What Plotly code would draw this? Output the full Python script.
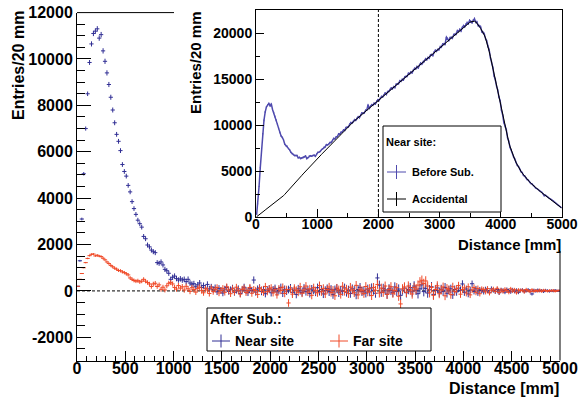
import math
import plotly.graph_objects as go

# ---------------- data (20 mm bins, centres 10 ... 4990 mm) ----------------
bin_centers_mm = [10 + 20 * i for i in range(250)]

near_after_sub = [
    200, 1300, 3100, 5050, 7000, 8500, 9850, 10650, 11100, 11200,
    11300, 10900, 11050, 10350, 9900, 9400, 8900, 8350, 7800, 7250,
    6750, 6450, 6050, 5450, 5150, 4950, 4550, 4270, 3850, 3550,
    3300, 3050, 2900, 2750, 2350, 2250, 1980, 1900, 1760, 1690,
    1650, 1220, 1190, 1250, 1120, 930, 870, 760, 500, 590,
    640, 530, 470, 520, 470, 500, 400, 500, 340, 290,
    310, 180, 260, 340, 150, 230, 120, 280, 90, 170,
    60, 140, -40, 110, 30, -90, 80, 150, -20, 50,
    120, -60, 30, 90, -110, 40, 160, 10, -70, 100,
    20, 470, -50, 80, 130, -30, 60, -120, 40, 90,
    -80, 50, 110, -40, 20, 150, -100, 70, -10, 60,
    130, -60, 40, -150, 90, 10, -70, 120, -30, 50,
    -110, 80, 30, -50, 140, -20, 60, -130, 20, 100,
    -40, 70, -160, 50, 110, -80, 30, -20, 130, -60,
    40, -110, 90, 20, -170, 60, 150, -30, 10, -90,
    80, -40, 130, 30, -100, 560, 250, -60, 110, 40,
    -140, 90, 20, -60, 170, -20, 80, -190, 40, 120,
    -80, 60, 140, -40, 210, 30, -120, 90, 260, -30,
    110, -90, 50, 180, -150, 20, 130, -60, 70, -20,
    150, -100, 40, 90, -170, 60, -40, 120, 30, 300,
    -60, 80, -130, 40, 310, -20, 90, -90, 50, 20,
    -40, 70, 10, -60, 90, 30, -30, 60, -80, 40,
    20, -50, 60, 10, -40, 50, -20, 30, -60, 20,
    40, -30, 10, 50, -20, -130, 30, -10, 40, 0,
    20, -30, 30, 10, -20, 20, -10, 30, 0, 10,
]

far_after_sub = [
    200, 500, 750, 1000, 1220, 1400, 1520, 1580, 1590, 1510,
    1540, 1500, 1480, 1410, 1340, 1250, 1180, 1100, 1040, 980,
    940, 880, 870, 820, 790, 740, 690, 560, 500, 450,
    420, 440, 390, 420, 500, 420, 360, 300, 190, 300,
    330, 190, 260, 70, 160, 40, 220, 330, 360, 300,
    150, 80, 230, 120, 180, 40, 200, 90, -20, 140,
    60, -50, 110, 160, 10, -80, 90, 40, -110, 130,
    -30, 70, 150, -90, 20, 110, -60, 180, 40, -120,
    90, -40, 160, 30, -140, 70, 120, -70, 10, 150,
    -100, 60, 20, -150, 110, 40, -60, 190, -30, 80,
    130, -80, 50, -170, 90, 20, 160, -110, 60, -520,
    70, -140, 120, 30, -60, 180, -100, 40, 210, -50,
    90, -190, 140, 10, -80, 230, -40, 110, -130, 60,
    170, -70, 30, -210, 120, 50, -150, 200, -20, 80,
    -120, 160, 40, -80, 240, -170, 70, 10, -110, 190,
    -40, 100, -200, 150, 30, 280, -90, 120, -60, 210,
    -150, 60, 180, -100, 20, 140, -230, -560, 90, 170,
    -60, 210, 40, -130, 150, 80, 250, 390, 460, 320,
    430, 210, -80, 150, -190, 60, 220, -120, 40, 170,
    -210, 110, 50, -160, 180, -30, 90, 230, -140, 60,
    130, -90, 180, -170, 40, 150, -60, 110, -120, 80,
    60, -40, 100, -90, 30, 80, -20, 110, -70, 40,
    -30, 70, 20, -60, 90, -10, 50, -80, 40, 20,
    30, -40, 60, 10, -30, 50, -20, 20, -10, 40,
    -20, 30, 10, -10, 20, 0, 30, -20, 10, 20,
]

near_accidental = [
    30, 120, 220, 320, 430, 540, 650, 760, 860, 960,
    1060, 1160, 1250, 1340, 1430, 1520, 1620, 1720, 1830, 1940,
    2060, 2190, 2320, 2460, 2600, 2740, 2880, 3030, 3180, 3330,
    3480, 3630, 3780, 3930, 4080, 4230, 4380, 4530, 4680, 4830,
    4980, 5120, 5260, 5400, 5540, 5680, 5820, 5960, 6100, 6240,
    6380, 6520, 6660, 6800, 6940, 7080, 7220, 7360, 7500, 7640,
    7780, 7920, 8060, 8200, 8340, 8480, 8620, 8760, 8900, 9040,
    9180, 9320, 9460, 9600, 9740, 9880, 9995, 10110, 10225, 10340,
    10455, 10570, 10685, 10800, 10915, 11030, 11145, 11260, 11375, 11490,
    11605, 11720, 11835, 11950, 12065, 12180, 12295, 12410, 12525, 12640,
    12755, 12868, 12981, 13094, 13207, 13320, 13433, 13546, 13659, 13772,
    13885, 13998, 14111, 14224, 14337, 14450, 14563, 14676, 14789, 14902,
    15015, 15128, 15241, 15354, 15467, 15580, 15693, 15806, 15919, 16032,
    16145, 16258, 16371, 16484, 16597, 16710, 16823, 16936, 17049, 17162,
    17275, 17388, 17501, 17614, 17727, 17840, 17953, 18066, 18179, 18292,
    18410, 18528, 18646, 18764, 18882, 19000, 19118, 19236, 19354, 19472,
    19590, 19708, 19826, 19944, 20062, 20180, 20298, 20416, 20534, 20652,
    20760, 20870, 20970, 21060, 21140, 21210, 21260, 21290, 21280, 21220,
    21080, 20900, 20700, 20500, 20300, 20050, 19780, 19450, 19050, 18580,
    18020, 17430, 16800, 16160, 15520, 14880, 14270, 13670, 13000, 12330,
    11680, 11030, 10400, 9790, 9190, 8640, 8140, 7680, 7270, 6890,
    6540, 6220, 5920, 5650, 5400, 5170, 4960, 4770, 4590, 4420,
    4260, 4110, 3960, 3820, 3680, 3550, 3430, 3310, 3190, 3070,
    2960, 2850, 2740, 2640, 2540, 2440, 2340, 2240, 2140, 2040,
    1950, 1850, 1760, 1660, 1570, 1450, 1340, 1230, 1120, 1000,
]

assert len(near_after_sub) == len(far_after_sub) == len(near_accidental) == 250

# before subtraction = signal after subtraction + accidental background
near_before_sub = [a + b for a, b in zip(near_after_sub, near_accidental)]
# Poisson errors
near_err = [math.sqrt(b + a) for a, b in zip(near_accidental, near_before_sub)]
FAR_ERR_SCALE = 1.4
far_err = [FAR_ERR_SCALE * math.sqrt(a) for a in near_accidental]

main_y_ticks = [-2000, 0, 2000, 4000, 6000, 8000, 10000, 12000]
main_y_ticktext = ["-2000", "0", "2000", "4000", "6000", "8000", "10000", "12000"]

# ---------------- style ----------------
W, H = 579, 400
BLUE = "#302e94"
BLUE_LIGHT = "#4f4aae"
RED = "#f04a28"
FONT = "Liberation Sans"


def px(x):
    return x / W


def py(y):
    return 1 - y / H


MAIN_X = [px(77), px(560)]
MAIN_Y = [py(360.5), py(12.6)]
INS_X = [px(256), px(562)]
INS_Y = [py(217), py(10)]

fig = go.Figure()

fig.add_trace(go.Scatter(
    x=bin_centers_mm, y=near_after_sub, mode="markers", xaxis="x", yaxis="y",
    marker=dict(symbol="line-ew", size=3, color=BLUE, line=dict(width=1, color=BLUE)),
    error_y=dict(type="data", array=near_err, thickness=1, width=0, color=BLUE),
    showlegend=False, hoverinfo="skip"))
fig.add_trace(go.Scatter(
    x=bin_centers_mm, y=far_after_sub, mode="markers", xaxis="x", yaxis="y",
    marker=dict(symbol="line-ew", size=3, color=RED, line=dict(width=1, color=RED)),
    error_y=dict(type="data", array=far_err, thickness=1, width=0, color=RED),
    showlegend=False, hoverinfo="skip"))

fig.add_trace(go.Scatter(
    x=bin_centers_mm, y=near_before_sub, mode="lines", xaxis="x2", yaxis="y2",
    line=dict(color=BLUE_LIGHT, width=1.5),
    error_y=dict(type="data", array=[math.sqrt(v) for v in near_before_sub],
                 thickness=1, width=0, color=BLUE_LIGHT),
    showlegend=False, hoverinfo="skip"))
fig.add_trace(go.Scatter(
    x=bin_centers_mm, y=near_accidental, mode="lines", xaxis="x2", yaxis="y2",
    line=dict(color="black", width=1),
    showlegend=False, hoverinfo="skip"))

tickfont_main = dict(family=FONT, size=16, color="black", weight="bold")
tickfont_ins = dict(family=FONT, size=14, color="black", weight="bold")

fig.update_layout(
    width=W, height=H, autosize=False,
    margin=dict(l=0, r=0, t=0, b=0, pad=0, autoexpand=False),
    showlegend=False,
    paper_bgcolor="white", plot_bgcolor="rgba(0,0,0,0)",
    xaxis=dict(domain=MAIN_X, range=[0, 5000], anchor="y", automargin=False,
               tickmode="linear", tick0=0, dtick=500, ticklabelstandoff=-7,
               ticks="inside", ticklen=10, tickwidth=1, tickcolor="black",
               minor=dict(tickmode="linear", tick0=0, dtick=100, ticks="inside",
                          ticklen=5, tickcolor="black"),
               showline=True, linecolor="black", linewidth=1, mirror=False,
               showgrid=False, zeroline=False, tickfont=tickfont_main),
    yaxis=dict(domain=MAIN_Y, range=[-3000, 12000], anchor="x", automargin=False,
               tickmode="array", tickvals=main_y_ticks, ticktext=main_y_ticktext,
               ticks="inside", ticklen=14, tickwidth=1, tickcolor="black",
               minor=dict(tickmode="linear", tick0=0, dtick=500, ticks="inside",
                          ticklen=8, tickcolor="black"),
               showline=True, linecolor="black", linewidth=1, mirror=False,
               showgrid=False, zeroline=False, tickfont=tickfont_main),
    xaxis2=dict(domain=INS_X, range=[0, 5000], anchor="y2", automargin=False,
                tickmode="linear", tick0=0, dtick=1000, tickformat="d",
                ticklabelstandoff=-6,
                ticks="inside", ticklen=8, tickwidth=1, tickcolor="black",
                minor=dict(tickmode="linear", tick0=0, dtick=500, ticks="inside",
                           ticklen=4, tickcolor="black"),
                showline=True, linecolor="black", linewidth=1, mirror=True,
                showgrid=False, zeroline=False, tickfont=tickfont_ins),
    yaxis2=dict(domain=INS_Y, range=[0, 22500], anchor="x2", automargin=False,
                tickmode="linear", tick0=0, dtick=5000, tickformat="d",
                ticks="inside", ticklen=8, tickwidth=1, tickcolor="black",
                minor=dict(tickmode="linear", tick0=0, dtick=2500, ticks="inside",
                           ticklen=4, tickcolor="black"),
                showline=True, linecolor="black", linewidth=1, mirror=True,
                showgrid=False, zeroline=False, tickfont=tickfont_ins),
)

shapes = []
# main frame parts not hidden by the inset pad
shapes.append(dict(type="line", xref="paper", yref="paper",
                   x0=MAIN_X[0], x1=px(174), y0=MAIN_Y[1], y1=MAIN_Y[1],
                   line=dict(color="black", width=1)))
shapes.append(dict(type="line", xref="paper", yref="paper",
                   x0=MAIN_X[1], x1=MAIN_X[1], y0=MAIN_Y[0], y1=py(251),
                   line=dict(color="black", width=1)))
# dashed reference lines
shapes.append(dict(type="line", xref="x", yref="y", x0=0, x1=5000, y0=0, y1=0,
                   line=dict(color="black", width=1, dash="3px,2px"), layer="below"))
shapes.append(dict(type="line", xref="x2", yref="y2", x0=2000, x1=2000, y0=0, y1=22500,
                   line=dict(color="black", width=1, dash="3px,2px"), layer="below"))
# legend boxes
shapes.append(dict(type="rect", xref="paper", yref="paper",
                   x0=px(207), x1=px(431), y0=py(351), y1=py(308),
                   fillcolor="white", line=dict(color="black", width=1)))
shapes.append(dict(type="rect", xref="paper", yref="paper",
                   x0=px(383), x1=px(501), y0=py(212), y1=py(126),
                   fillcolor="white", line=dict(color="black", width=1)))


def cross(cx, cy, hw, hh, color):
    shapes.append(dict(type="line", xref="paper", yref="paper",
                       x0=px(cx - hw), x1=px(cx + hw), y0=py(cy), y1=py(cy),
                       line=dict(color=color, width=1)))
    shapes.append(dict(type="line", xref="paper", yref="paper",
                       x0=px(cx), x1=px(cx), y0=py(cy - hh), y1=py(cy + hh),
                       line=dict(color=color, width=1)))


cross(221, 341, 9, 6.5, BLUE)
cross(339, 341, 9, 6.5, RED)
cross(396.5, 172, 9.5, 7, BLUE_LIGHT)
cross(396.5, 199, 9.5, 7, "black")
fig.update_layout(shapes=shapes)

ann = []


def text(t, x, y, size, xanchor="left", angle=0):
    ann.append(dict(text=t, xref="paper", yref="paper", x=px(x), y=py(y),
                    xanchor=xanchor, yanchor="middle", showarrow=False,
                    textangle=angle,
                    font=dict(family=FONT, size=size, color="black", weight="bold")))


text("Entries/20 mm", 18, 66, 16, xanchor="center", angle=-90)
text("Entries/20 mm", 195, 62, 15, xanchor="center", angle=-90)
text("Distance [mm]", 561, 388, 16, xanchor="right")
text("Distance [mm]", 563, 244, 15, xanchor="right")
text("After Sub.:", 208, 319, 14)
text("Near site", 233, 341, 14)
text("Far site", 351, 341, 14)
text("Near site:", 384, 142, 11)
text("Before Sub.", 410, 172, 11)
text("Accidental", 410, 199, 11)
fig.update_layout(annotations=ann)

fig.write_html("out.html",
               config={"displayModeBar": False},
               post_script="document.body.style.margin='0';")
